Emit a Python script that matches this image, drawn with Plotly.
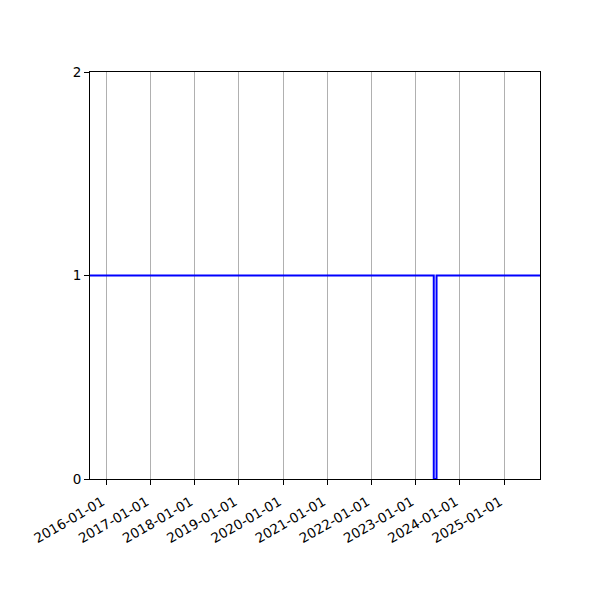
import plotly.graph_objects as go

dates = ["2015-08-01", "2023-05-30", "2023-05-31", "2023-06-22", "2023-06-23", "2025-12-31"]
values = [1, 1, 0, 0, 1, 1]
tick_vals = ["2016-01-01", "2017-01-01", "2018-01-01", "2019-01-01", "2020-01-01",
             "2021-01-01", "2022-01-01", "2023-01-01", "2024-01-01", "2025-01-01"]

fig = go.Figure()
fig.add_trace(go.Scatter(x=dates, y=values, mode="lines",
                         line=dict(color="#0000ff", width=2, shape="hv")))

fig.update_layout(
    width=600, height=600,
    margin=dict(l=82, r=68, t=64, b=129),
    plot_bgcolor="white", paper_bgcolor="white",
    font=dict(family="DejaVu Sans", size=13, color="black"),
    showlegend=False,
)
fig.update_xaxes(
    range=["2015-08-20", "2025-10-25"],
    tickvals=tick_vals, ticktext=tick_vals, tickangle=-30,
    tickfont=dict(size=13.5),
    ticklabelstandoff=4, ticklabelshift=-4,
    showgrid=True, gridcolor="#b0b0b0", gridwidth=1,
    ticks="outside", ticklen=5, tickcolor="black",
    showline=True, linecolor="black", linewidth=1, mirror=True,
    zeroline=False,
)
fig.update_yaxes(
    range=[0, 2], tickvals=[0, 1, 2],
    tickfont=dict(size=13.5),
    showgrid=False,
    ticks="outside", ticklen=5, tickcolor="black",
    showline=True, linecolor="black", linewidth=1, mirror=True,
    zeroline=False,
)
fig.write_html("out.html")
